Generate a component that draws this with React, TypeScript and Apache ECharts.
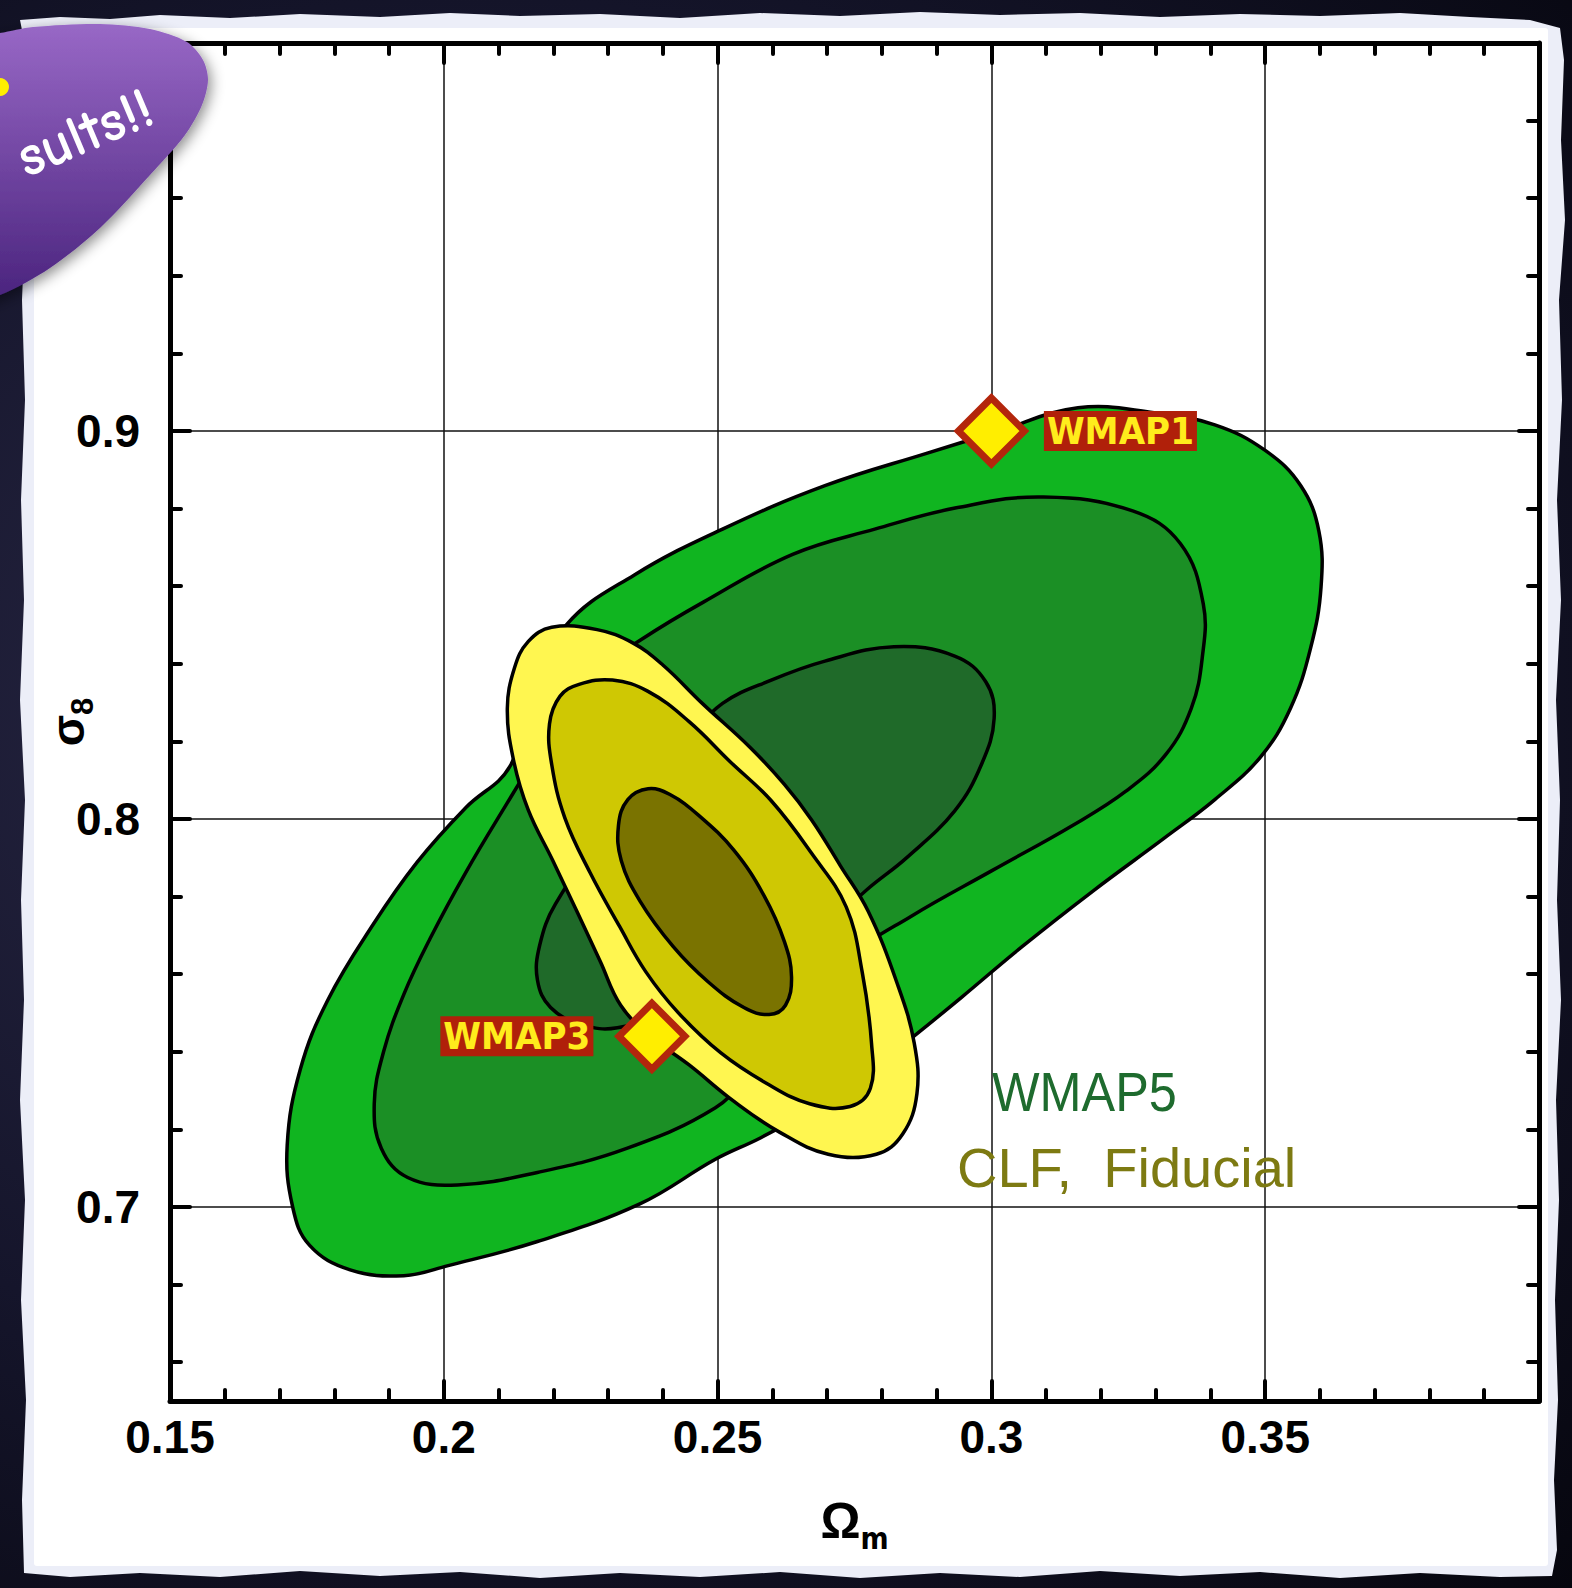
import { useEffect, useRef } from 'react';
import * as echarts from 'echarts';

// Axis ticks and labels
const xTickLabels = [0.15, 0.2, 0.25, 0.3, 0.35];
const yTickLabels = [0.7, 0.8, 0.9];
const yMinorTicks = [0.66, 0.68, 0.72, 0.74, 0.76, 0.78, 0.82, 0.84, 0.86, 0.88, 0.92, 0.94, 0.96, 0.98];

// WMAP5 confidence contours, [Omega_m, sigma_8]
const wmap5Outer: number[][] = [
  [0.3158, 0.906], [0.3297, 0.9047], [0.3408, 0.9016], [0.35, 0.895], [0.3565, 0.8859],
  [0.3598, 0.8742], [0.3602, 0.8598], [0.3583, 0.8441], [0.3546, 0.8285], [0.3491, 0.8159],
  [0.3408, 0.805], [0.3315, 0.795], [0.3186, 0.7815], [0.3056, 0.7671], [0.2946, 0.7541],
  [0.2862, 0.7444], [0.2779, 0.735], [0.2668, 0.7248], [0.2578, 0.7178], [0.2496, 0.7123],
  [0.2358, 0.7008], [0.2171, 0.6911], [0.2008, 0.6849], [0.1927, 0.6823], [0.1829, 0.6838],
  [0.1755, 0.6901], [0.1724, 0.7], [0.1714, 0.7159], [0.1738, 0.7355], [0.1788, 0.7533],
  [0.187, 0.7726], [0.1951, 0.7888], [0.204, 0.8029], [0.2121, 0.8136], [0.2154, 0.8311],
  [0.2223, 0.8499], [0.2348, 0.8629], [0.2509, 0.8747], [0.2696, 0.8859], [0.2883, 0.8943],
  [0.3008, 0.8997],
];
const wmap5Middle: number[][] = [
  [0.3095, 0.883], [0.3258, 0.8794], [0.3345, 0.871], [0.3387, 0.8554], [0.3385, 0.8415],
  [0.3365, 0.8285], [0.3319, 0.8167], [0.3245, 0.8071], [0.3149, 0.7984], [0.3001, 0.7867],
  [0.2853, 0.7749], [0.2742, 0.7645], [0.2631, 0.7475], [0.2557, 0.7345], [0.2496, 0.7256],
  [0.2334, 0.7151], [0.2171, 0.7089], [0.2025, 0.7057], [0.1934, 0.7076], [0.1886, 0.7151],
  [0.1873, 0.7266], [0.189, 0.74], [0.1927, 0.7548], [0.1975, 0.7692], [0.204, 0.7862],
  [0.2114, 0.8037], [0.2188, 0.8206], [0.2262, 0.8363], [0.236, 0.8462], [0.2474, 0.8559],
  [0.2637, 0.8682], [0.2787, 0.8747], [0.2936, 0.8802],
];
const wmap5Inner: number[][] = [
  [0.2822, 0.8444], [0.2933, 0.842], [0.299, 0.8353], [0.3005, 0.8259], [0.2982, 0.8141],
  [0.2933, 0.8021], [0.2846, 0.7901], [0.2772, 0.7817], [0.2668, 0.7684], [0.2483, 0.7527],
  [0.2317, 0.7462], [0.2252, 0.747], [0.2195, 0.7514], [0.2171, 0.7585], [0.2175, 0.7674],
  [0.2204, 0.7781], [0.2299, 0.7971], [0.2446, 0.8206], [0.2509, 0.8298], [0.2598, 0.8358],
  [0.2696, 0.8407],
];

// CLF fiducial confidence contours, [Omega_m, sigma_8]
const clfOuter: number[][] = [
  [0.2197, 0.8494], [0.228, 0.8488], [0.2345, 0.8454], [0.24, 0.8397], [0.2472, 0.8298],
  [0.2559, 0.8185], [0.2622, 0.8089], [0.2672, 0.7997], [0.2724, 0.788], [0.2775, 0.7762],
  [0.2827, 0.758], [0.2859, 0.7423], [0.2864, 0.7292], [0.2838, 0.7188], [0.279, 0.7136],
  [0.2702, 0.7136], [0.2613, 0.7193], [0.253, 0.7272], [0.2448, 0.7366], [0.2378, 0.7439],
  [0.2323, 0.752], [0.2286, 0.7632], [0.2243, 0.7762], [0.2199, 0.7893], [0.2154, 0.8024],
  [0.2127, 0.8154], [0.2116, 0.8285], [0.2129, 0.8389], [0.2154, 0.8457],
];
const clfMiddle: number[][] = [
  [0.2247, 0.8347], [0.2308, 0.8358], [0.2373, 0.8329], [0.2448, 0.8251], [0.2522, 0.8149],
  [0.2598, 0.8047], [0.2672, 0.7911], [0.2735, 0.7773], [0.2764, 0.7606], [0.2781, 0.7423],
  [0.2779, 0.7306], [0.2742, 0.7259], [0.2668, 0.7266], [0.2589, 0.7319], [0.2506, 0.7397],
  [0.2428, 0.7501], [0.2369, 0.7606], [0.2321, 0.7723], [0.2267, 0.7862], [0.2221, 0.8003],
  [0.2197, 0.8141], [0.2193, 0.8245], [0.2212, 0.8316],
];
const clfInner: number[][] = [
  [0.2373, 0.8078], [0.2413, 0.8063], [0.2465, 0.801], [0.253, 0.7919], [0.2585, 0.7802],
  [0.2622, 0.7684], [0.2635, 0.7593], [0.2624, 0.752], [0.2594, 0.7496], [0.2548, 0.7514],
  [0.2483, 0.758], [0.2419, 0.7671], [0.2358, 0.7789], [0.2324, 0.7893], [0.2319, 0.7984],
  [0.2336, 0.805],
];

// Earlier WMAP releases
const markerNames = ['WMAP1', 'WMAP3'];
const markerOmegaM = [0.3, 0.238];
const markerSigma8 = [0.9, 0.744];

// Torn paper outline (page pixels)
const paperEdge: number[][] = [
  [20, 20], [60, 17], [110, 19], [160, 15], [230, 18], [300, 14], [380, 17], [450, 13], [520, 16],
  [600, 14], [680, 18], [760, 13], [840, 16], [920, 12], [1000, 15], [1080, 13], [1160, 17],
  [1240, 14], [1320, 16], [1400, 13], [1470, 17], [1530, 20], [1560, 28],
  [1564, 60], [1561, 140], [1565, 220], [1559, 300], [1562, 400], [1557, 500], [1561, 600],
  [1556, 700], [1560, 800], [1557, 900], [1561, 1000], [1556, 1100], [1559, 1200], [1555, 1300],
  [1558, 1400], [1554, 1480], [1557, 1550], [1552, 1576],
  [1500, 1577], [1420, 1573], [1340, 1578], [1260, 1572], [1180, 1576], [1100, 1571], [1020, 1577],
  [940, 1573], [860, 1578], [780, 1572], [700, 1577], [620, 1573], [540, 1578], [460, 1572],
  [380, 1576], [300, 1571], [220, 1577], [140, 1573], [70, 1577], [24, 1573],
  [22, 1500], [26, 1400], [21, 1300], [25, 1200], [20, 1100], [24, 1000], [21, 900], [25, 800],
  [20, 700], [24, 600], [21, 500], [25, 400], [22, 300], [26, 200], [23, 100], [24, 40],
];

// Speech bubble outline (page pixels)
const bubbleEdge: number[][] = [
  [-60, 40], [0, 33], [33, 27], [100, 24], [150, 29], [187, 42], [203, 60], [208, 80],
  [202, 105], [185, 135], [150, 175], [100, 228], [50, 268], [0, 295], [-60, 310],
];

const LABEL_FONT = '"Liberation Sans", Arial, sans-serif';
const NARROW_FONT = '"Liberation Sans Narrow", "DejaVu Sans Condensed", "Liberation Sans", sans-serif';

const tickLine = { color: '#000', width: 4, cap: 'round' as const };
const axisLine = { show: true, onZero: false, lineStyle: { color: '#000', width: 5 } };

function contourSeries(pts: number[][], fill: string, z: number) {
  return {
    type: 'custom',
    coordinateSystem: 'cartesian2d',
    data: pts,
    encode: { x: 0, y: 1 },
    silent: true,
    z,
    renderItem: (params: any, api: any) => {
      if (params.dataIndex !== 0) return null;
      const points = pts.map((p) => api.coord(p));
      return {
        type: 'polygon',
        shape: { points, smooth: 0.4 },
        style: { fill, stroke: '#000', lineWidth: 3.5 },
      };
    },
  };
}

const fmt = (v: number) => String(Math.round(v * 100) / 100);

function buildOption() {
  const xBase = { type: 'value', min: 0.15, max: 0.4, interval: 0.05 };
  const yBase = { type: 'value', min: 0.65, max: 1.0 };
  return {
    animation: false,
    backgroundColor: 'transparent',
    grid: { left: 170, right: 33, top: 43, bottom: 187, containLabel: false, outerBoundsMode: 'none' },
    xAxis: [
      {
        ...xBase,
        position: 'bottom',
        axisLine,
        axisTick: { show: true, inside: true, length: 20, lineStyle: tickLine },
        minorTick: { show: true, splitNumber: 5, length: 11, lineStyle: tickLine },
        splitLine: { show: true, lineStyle: { color: '#111', width: 1.5 } },
        axisLabel: {
          show: true, customValues: xTickLabels, formatter: fmt, margin: 13,
          color: '#000', fontFamily: LABEL_FONT, fontWeight: 'bold', fontSize: 46,
        },
        name: '{o|Ω}{s|m}',
        nameLocation: 'middle',
        nameGap: 88,
        nameMoveOverlap: false,
        nameTextStyle: {
          rich: {
            o: { fontSize: 50, fontWeight: 'bold', fontFamily: LABEL_FONT, color: '#000' },
            s: { fontSize: 30, fontWeight: 'bold', fontFamily: NARROW_FONT, color: '#000', padding: [34, 0, 0, 0] },
          },
        },
      },
      {
        ...xBase,
        position: 'top',
        axisLine,
        axisTick: { show: true, inside: true, length: 20, lineStyle: tickLine },
        minorTick: { show: true, splitNumber: 5, length: 11, lineStyle: tickLine },
        splitLine: { show: false },
        axisLabel: { show: false },
      },
    ],
    yAxis: [
      {
        ...yBase,
        position: 'left',
        axisLine,
        axisTick: { show: true, inside: true, length: 20, customValues: yTickLabels, lineStyle: tickLine },
        splitLine: { show: true, lineStyle: { color: '#111', width: 1.5 } },
        axisLabel: {
          show: true, customValues: yTickLabels, formatter: fmt, margin: 30,
          color: '#000', fontFamily: LABEL_FONT, fontWeight: 'bold', fontSize: 46,
        },
        name: '{o|σ}{s|8}',
        nameLocation: 'middle',
        nameRotate: 90,
        nameGap: 72,
        nameMoveOverlap: false,
        nameTextStyle: {
          rich: {
            o: { fontSize: 46, fontWeight: 'bold', fontFamily: LABEL_FONT, color: '#000' },
            s: { fontSize: 31, fontWeight: 'bold', fontFamily: LABEL_FONT, color: '#000', padding: [30, 0, 0, 0] },
          },
        },
      },
      {
        ...yBase,
        position: 'left',
        axisLine: { show: false },
        axisTick: { show: true, inside: true, length: 11, customValues: yMinorTicks, lineStyle: tickLine },
        splitLine: { show: false },
        axisLabel: { show: false },
      },
      {
        ...yBase,
        position: 'right',
        axisLine,
        axisTick: { show: true, inside: true, length: 20, customValues: yTickLabels, lineStyle: tickLine },
        splitLine: { show: false },
        axisLabel: { show: false },
      },
      {
        ...yBase,
        position: 'right',
        axisLine: { show: false },
        axisTick: { show: true, inside: true, length: 11, customValues: yMinorTicks, lineStyle: tickLine },
        splitLine: { show: false },
        axisLabel: { show: false },
      },
    ],
    series: [
      contourSeries(wmap5Outer, '#10b520', 2),
      contourSeries(wmap5Middle, '#1b8f25', 3),
      contourSeries(wmap5Inner, '#1f6a29', 4),
      contourSeries(clfOuter, '#fff650', 5),
      contourSeries(clfMiddle, '#cfc803', 6),
      contourSeries(clfInner, '#7a7300', 7),
      {
        type: 'scatter',
        z: 10,
        symbol: 'diamond',
        symbolSize: 66,
        itemStyle: { color: '#ffee00', borderColor: '#b3260c', borderWidth: 7, opacity: 1 },
        emphasis: { disabled: true },
        label: {
          show: true,
          formatter: '{b}',
          fontFamily: NARROW_FONT,
          fontWeight: 'bold',
          fontSize: 38,
          color: '#ffec1c',
          backgroundColor: '#b0200a',
          padding: [2, 3, 0, 3],
          lineHeight: 38,
        },
        data: markerNames.map((name, i) => ({
          name,
          value: [markerOmegaM[i], markerSigma8[i]],
          label: { position: i === 0 ? 'right' : 'left', distance: i === 0 ? 16 : 22 },
        })),
      },
    ],
    graphic: {
      elements: [
        { type: 'polygon', z: -20, silent: true, shape: { points: paperEdge }, style: { fill: '#eceef8' } },
        { type: 'rect', z: -19, silent: true, shape: { x: 34, y: 28, width: 1514, height: 1538, r: 3 }, style: { fill: '#ffffff' } },
        {
          type: 'text', z: 20, silent: true, x: 992, y: 1064, scaleX: 0.9,
          style: {
            text: 'WMAP5', fill: '#1e6b2e', font: `56px ${LABEL_FONT}`,
            textAlign: 'left', textVerticalAlign: 'top', align: 'left', verticalAlign: 'top',
          },
        },
        {
          type: 'text', z: 20, silent: true, x: 957, y: 1139,
          style: {
            text: 'CLF,  Fiducial', fill: '#7d7a12', font: `56px ${LABEL_FONT}`,
            textAlign: 'left', textVerticalAlign: 'top', align: 'left', verticalAlign: 'top',
          },
        },
        {
          type: 'polygon', z: 100, silent: true,
          shape: { points: bubbleEdge, smooth: 0.3 },
          style: {
            fill: new echarts.graphic.LinearGradient(0, 0, 0, 1, [
              { offset: 0, color: '#9868c6' },
              { offset: 1, color: '#46207a' },
            ]),
            shadowBlur: 14, shadowColor: 'rgba(0,0,0,0.45)', shadowOffsetX: 3, shadowOffsetY: 4,
          },
        },
        { type: 'circle', z: 101, silent: true, shape: { cx: 0, cy: 87, r: 9 }, style: { fill: '#ffee00' } },
        {
          type: 'text', z: 102, silent: true, x: 30, y: 186, rotation: 0.4,
          style: {
            text: 'sults!!', fill: '#ffffff',
            font: '600 58px "Comic Neue", "Comic Sans MS", "Noto Sans", sans-serif',
            lineHeight: 56,
            textAlign: 'left', textVerticalAlign: 'bottom', align: 'left', verticalAlign: 'bottom',
          },
        },
      ],
    },
  };
}

export default function App() {
  const ref = useRef<HTMLDivElement>(null);
  useEffect(() => {
    if (!ref.current) return;
    const chart = echarts.init(ref.current, null, { renderer: 'svg' });
    chart.setOption(buildOption() as any);
    return () => chart.dispose();
  }, []);
  return (
    <div
      ref={ref}
      style={{
        position: 'absolute', left: 0, top: 0, width: 1572, height: 1588,
        background: 'radial-gradient(ellipse at 30% 45%, #2a2947 0%, #15152b 55%, #06060e 100%)',
      }}
    />
  );
}
